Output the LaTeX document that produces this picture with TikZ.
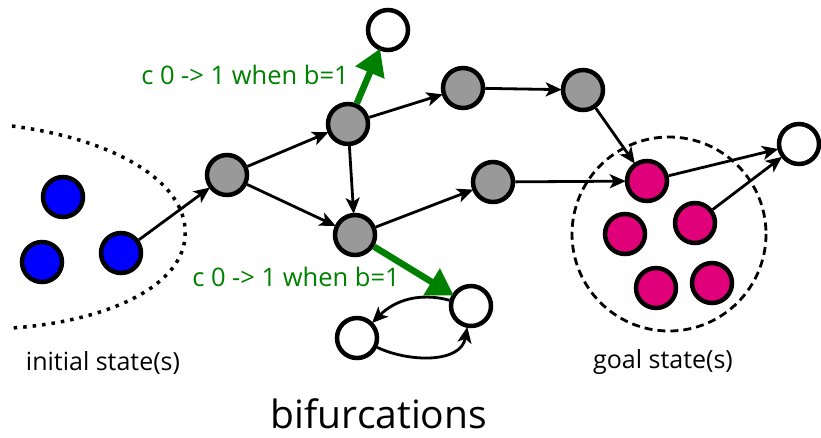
\documentclass[tikz,border=0pt]{standalone}
\usepackage{fontspec}
\setmainfont{Open Sans}
\usetikzlibrary{arrows.meta}
\definecolor{sgray}{RGB}{153,153,153}
\definecolor{spink}{RGB}{224,0,122}
\definecolor{sgreen}{RGB}{0,128,0}
\begin{document}
\begin{tikzpicture}[x=1pt,y=-1pt,
  st/.style={circle,draw=black,line width=4.5pt,minimum size=40pt,inner sep=0pt},
  bluest/.style={st,fill=blue},
  grayst/.style={st,fill=sgray},
  pinkst/.style={st,fill=spink},
  whitest/.style={st,fill=white},
  edge/.style={line width=2.8pt,-{Stealth[length=16pt,width=14pt,inset=4pt]},shorten >=-1pt},
  gedge/.style={line width=6.5pt,draw=sgreen,-{Triangle[length=26pt,width=30pt]},shorten >=-2pt},
  lbl/.style={font=\fontsize{25}{29}\selectfont},
  glbl/.style={font=\fontsize{25.5}{30}\selectfont,text=sgreen}
]
\useasboundingbox (0,0) rectangle (821,437);
% initial region
\draw[line width=3.5pt,dash pattern=on 3.5pt off 6pt] (12,126) .. controls (120,140) and (190,185) .. (185,238) .. controls (180,290) and (100,322) .. (12,328);
% goal region
\draw[line width=2.8pt,dash pattern=on 8pt off 5pt] (669,234) circle (97);
% nodes
\node[bluest] (b1) at (63,197) {};
\node[bluest] (b2) at (42,262) {};
\node[bluest] (b3) at (121,253) {};
\node[grayst] (g1) at (227,175) {};
\node[grayst] (g2) at (348,124) {};
\node[grayst] (g3) at (355,235) {};
\node[grayst] (g4) at (463,88) {};
\node[grayst] (g5) at (583,90) {};
\node[grayst] (g6) at (493,182) {};
\node[whitest] (wt) at (388,30) {};
\node[whitest] (wb) at (471,306) {};
\node[whitest] (wc) at (357,338) {};
\node[whitest] (wr) at (799,144) {};
\node[pinkst] (p1) at (647,181) {};
\node[pinkst] (p2) at (625,234) {};
\node[pinkst] (p3) at (695,223) {};
\node[pinkst] (p4) at (656,288) {};
\node[pinkst] (p5) at (712,283) {};
% edges
\draw[edge] (b3) -- (g1);
\draw[edge] (g1) -- (g2);
\draw[edge] (g1) -- (g3);
\draw[edge] (g2) -- (g3);
\draw[edge] (g2) -- (g4);
\draw[edge] (g3) -- (g6);
\draw[edge] (g4) -- (g5);
\draw[edge] (g5) -- (p1);
\draw[edge] (g6) -- (p1);
\draw[edge] (p1) -- (wr);
\draw[edge] (p3) -- (wr);
\draw[edge] (wb) to[out=165,in=45] (wc);
\draw[edge] (wc) to[out=-25,in=-100] (wb);
\draw[gedge] (g2) -- (wt);
\draw[gedge] (g3) -- (wb);
% labels
\node[glbl] (l1) at (245,75) {c 0 -> 1 when b=1};
\node[glbl] (l2) at (296,277) {c 0 -> 1 when b=1};
\node[lbl] (t1) at (103,363) {initial state(s)};
\node[lbl] (t2) at (663,362) {goal state(s)};
\node[font=\fontsize{39}{45}\selectfont,inner sep=0pt,anchor=base] (t3) at (379,428) {bifurcations};
\end{tikzpicture}
\end{document}
